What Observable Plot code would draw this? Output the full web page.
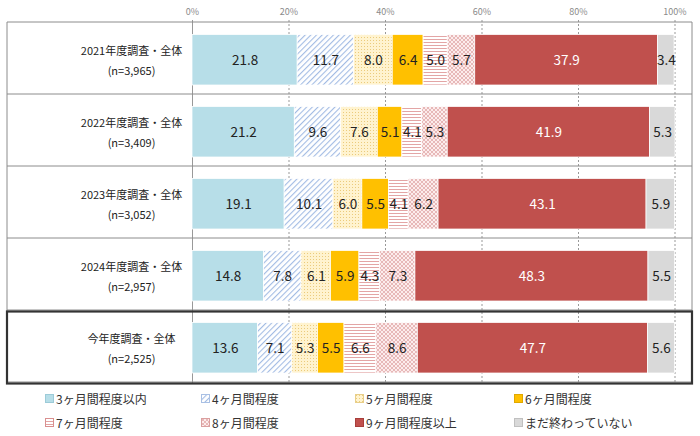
<!DOCTYPE html>
<html><head><meta charset="utf-8">
<script src="https://cdn.jsdelivr.net/npm/d3@7"></script>
<script src="https://cdn.jsdelivr.net/npm/@observablehq/plot@0.6"></script>
<style>
body{margin:0;background:#fff;font-family:"Noto Sans CJK JP","Noto Sans",sans-serif;}
#chart{width:700px;height:386px;}
#legend{display:grid;grid-template-columns:156px 154px 159px 160px;grid-auto-rows:24px;margin-left:45px;font-size:12px;color:#333;}
#legend .item{display:flex;align-items:center;gap:2px;white-space:nowrap;}
#legend svg{flex:none;}
</style></head><body>
<div id="chart"></div>
<div id="legend"></div>
<script>
const surveys = ["2021年度調査・全体","2022年度調査・全体","2023年度調査・全体","2024年度調査・全体","今年度調査・全体"];
const sampleSizes = ["n=3,965","n=3,409","n=3,052","n=2,957","n=2,525"];
const categories = ["3ヶ月間程度以内","4ヶ月間程度","5ヶ月間程度","6ヶ月間程度","7ヶ月間程度","8ヶ月間程度","9ヶ月間程度以上","まだ終わっていない"];
const v2021 = [21.8, 11.7, 8.0, 6.4, 5.0, 5.7, 37.9, 3.4];
const v2022 = [21.2, 9.6, 7.6, 5.1, 4.1, 5.3, 41.9, 5.3];
const v2023 = [19.1, 10.1, 6.0, 5.5, 4.1, 6.2, 43.1, 5.9];
const v2024 = [14.8, 7.8, 6.1, 5.9, 4.3, 7.3, 48.3, 5.5];
const vThisYear = [13.6, 7.1, 5.3, 5.5, 6.6, 8.6, 47.7, 5.6];
const xTicks = [0, 20, 40, 60, 80, 100];

const seriesValues = [v2021, v2022, v2023, v2024, vThisYear];
const fills = ["#B7DEE8","url(#p4)","url(#p5)","#FFC000","url(#p7)","url(#p8)","#C0504D","#D9D9D9"];
const swatchStroke = ["#9ccbd8","#a9c0e4","#e8cf8a","#e0a800","#d98f8f","#dba0a0","#a83e3b","#c0c0c0"];

const data = [];
surveys.forEach((s, i) => seriesValues[i].forEach((v, j) => data.push({survey: s, cat: categories[j], idx: j, value: v})));

const font = '"Noto Sans CJK JP","Noto Sans",sans-serif';
const plot = Plot.plot({
  width: 700, height: 386,
  marginLeft: 192, marginRight: 25.5, marginTop: 20, marginBottom: 2,
  style: {fontFamily: font, background: "white", overflow: "visible"},
  x: {domain: [0, 100]},
  y: {domain: surveys, padding: 0},
  color: {type: "identity"},
  marks: [
    Plot.gridX(xTicks.slice(1), {stroke: "#999", strokeOpacity: 1, strokeDasharray: "2,2"}),
    Plot.ruleX([0], {stroke: "#999"}),
    Plot.barX(data, Plot.stackX({x: "value", y: "survey", fill: d => fills[d.idx], insetTop: 12.5, insetBottom: 9, stroke: "white", strokeWidth: 0.75})),
    Plot.text(data, Plot.stackX({x: "value", y: "survey", text: d => d.value.toFixed(1), fill: d => d.idx === 6 ? "white" : "#222", fontSize: 13.5, dy: 1.75})),
    Plot.axisX(xTicks, {anchor: "top", tickSize: 0, tickPadding: 6, tickFormat: d => d + "%", fontSize: 9, color: "#8a8a8a", label: null}),
    Plot.axisY({tickSize: 0, tickPadding: 61, textAnchor: "middle", fontSize: 11, lineHeight: 1.85, color: "#222", label: null,
      tickFormat: d => d + "\n(" + sampleSizes[surveys.indexOf(d)] + ")"})
  ]
});
document.getElementById("chart").appendChild(plot);

const svg = d3.select(plot);
const defs = svg.insert("defs", ":first-child");
const p4 = defs.append("pattern").attr("id", "p4").attr("patternUnits", "userSpaceOnUse").attr("width", 4).attr("height", 4).attr("patternTransform", "rotate(45)");
p4.append("rect").attr("width", 4).attr("height", 4).attr("fill", "white");
p4.append("rect").attr("x", 0).attr("width", 1.1).attr("height", 4).attr("fill", "#A3BCE4");
const p5 = defs.append("pattern").attr("id", "p5").attr("patternUnits", "userSpaceOnUse").attr("width", 3).attr("height", 3);
p5.append("rect").attr("width", 3).attr("height", 3).attr("fill", "#FFF3CF");
p5.append("rect").attr("x", 1).attr("y", 1).attr("width", 1).attr("height", 1).attr("fill", "#EBCB7C");
const p7 = defs.append("pattern").attr("id", "p7").attr("patternUnits", "userSpaceOnUse").attr("width", 4).attr("height", 3);
p7.append("rect").attr("width", 4).attr("height", 3).attr("fill", "white");
p7.append("rect").attr("y", 0).attr("width", 4).attr("height", 1).attr("fill", "#E3A5A5");
const p8 = defs.append("pattern").attr("id", "p8").attr("patternUnits", "userSpaceOnUse").attr("width", 4).attr("height", 4);
p8.append("rect").attr("width", 4).attr("height", 4).attr("fill", "#FCECEC");
p8.append("path").attr("d", "M0,0 L4,4 M4,0 L0,4").attr("fill", "none").attr("stroke", "#E2ABAB").attr("stroke-width", 0.8);

// table frame lines using the y scale
const y = plot.scale("y");
const bw = y.bandwidth;
const xL = 7, xR = 692;
const g = svg.append("g").attr("fill", "none");
const yTop = y.apply(surveys[0]);
const yBot = y.apply(surveys[surveys.length - 1]) + bw;
surveys.forEach((s, i) => {
  const yy = y.apply(s);
  g.append("line").attr("x1", xL).attr("x2", xR).attr("y1", yy).attr("y2", yy).attr("stroke", "#8c8c8c");
});
g.append("line").attr("x1", xL).attr("x2", xR).attr("y1", yBot).attr("y2", yBot).attr("stroke", "#8c8c8c");
g.append("line").attr("x1", xL).attr("x2", xL).attr("y1", yTop).attr("y2", yBot).attr("stroke", "#8c8c8c");
g.append("line").attr("x1", xR).attr("x2", xR).attr("y1", yTop).attr("y2", yBot).attr("stroke", "#8c8c8c");
const last = y.apply(surveys[surveys.length - 1]);
g.append("rect").attr("x", xL).attr("y", last + 1.5).attr("width", xR - xL).attr("height", bw).attr("stroke", "#333").attr("stroke-width", 2.2);

// legend
const legend = d3.select("#legend");
categories.forEach((c, j) => {
  const it = legend.append("div").attr("class", "item");
  const s = it.append("svg").attr("width", 9).attr("height", 9);
  s.append("rect").attr("x", 0.5).attr("y", 0.5).attr("width", 8).attr("height", 8).attr("fill", fills[j]).attr("stroke", swatchStroke[j]).attr("stroke-width", 1);
  it.append("span").text(c);
});
</script>
</body></html>
